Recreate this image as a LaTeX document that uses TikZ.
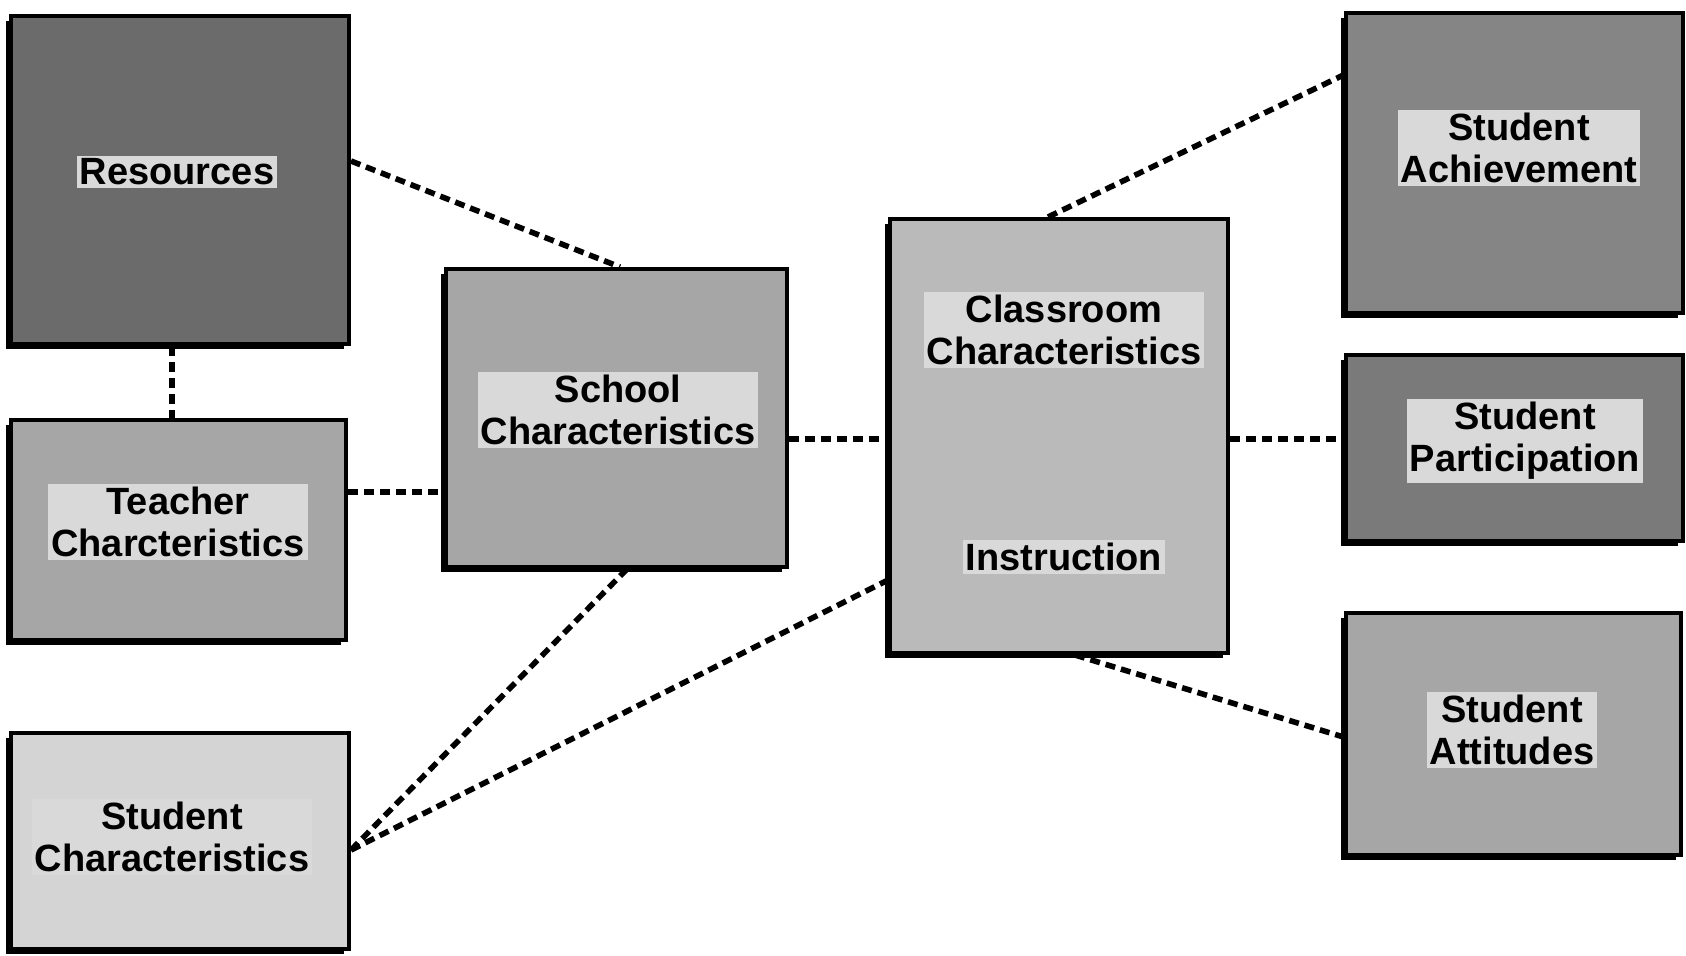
\documentclass[tikz,border=0pt]{standalone}
\usepackage{fontspec}
\setmainfont{Liberation Sans}
\usetikzlibrary{shadows}
\begin{document}
\begin{tikzpicture}[x=0.5pt,y=-0.5pt,
  box/.style={draw=black, line width=2pt, inner sep=0pt,
    general shadow={fill=black, shadow xshift=-2.4pt, shadow yshift=-2.4pt}},
  lbl/.style={font=\fontsize{19}{21}\selectfont\bfseries, align=center,
    fill=white!85!black, inner sep=1.5pt, text=black},
  conn/.style={line width=2.8pt, dash pattern=on 5pt off 3pt}]
\useasboundingbox (0,0) rectangle (1686,955);
% boxes
\node[box, fill=black!58, minimum width=169pt, minimum height=164pt] (res) at (180,180) {};
\node[box, fill=black!35, minimum width=167.5pt, minimum height=110pt] (tea) at (178,530) {};
\node[box, fill=black!17, minimum width=169pt, minimum height=108pt] (stu) at (180,841) {};
\node[box, fill=black!35, minimum width=170.5pt, minimum height=149pt] (sch) at (616,418) {};
\node[box, fill=black!27, minimum width=169pt, minimum height=217pt] (cls) at (1059,436) {};
\node[box, fill=black!48, minimum width=168.5pt, minimum height=150pt] (ach) at (1514,163) {};
\node[box, fill=black!52, minimum width=168.5pt, minimum height=93pt] (par) at (1514,448) {};
\node[box, fill=black!35, minimum width=167.5pt, minimum height=121pt] (att) at (1513,734) {};
% labels
\node[lbl] (resT) at (177,172) {Resources};
\node[lbl] (teaT) at (178,522) {Teacher\\Charcteristics};
\node[lbl] (stuT) at (172,837) {Student\\Characteristics};
\node[lbl] (schT) at (618,410) {School\\Characteristics};
\node[lbl] (clsT) at (1064,330) {Classroom\\Characteristics};
\node[lbl] (insT) at (1064,557) {Instruction};
\node[lbl] (achT) at (1519,148) {Student\\Achievement};
\node[lbl] (parT) at (1525,441) {Student\\Participation};
\node[lbl] (attT) at (1512,730) {Student\\Attitudes};
% connectors
\coordinate (resB) at ([xshift=-4pt]res.south);
\draw[conn] (resB) -- (resB |- tea.north);
\draw[conn] ([yshift=9.5pt]res.east) -- ([xshift=2pt]sch.north);
\coordinate (teaE) at ([yshift=19pt]tea.east);
\draw[conn] (teaE) -- (teaE -| sch.west);
\coordinate (stuE) at ([yshift=-4.5pt]stu.east);
\draw[conn] (stuE) -- ([xshift=5.5pt]sch.south);
\draw[conn] (stuE) -- ([yshift=-72pt]cls.west);
\coordinate (schE) at ([yshift=-10.5pt]sch.east);
\draw[conn] (schE) -- (schE -| cls.west);
\draw[conn] ([xshift=-5.5pt]cls.north) -- ([yshift=44pt]ach.west);
\coordinate (clsE) at ([yshift=-1.5pt]cls.east);
\draw[conn] (clsE) -- (clsE -| par.west);
\draw[conn] ([xshift=8pt]cls.south) -- ([yshift=-1.5pt]att.west);
\end{tikzpicture}
\end{document}
